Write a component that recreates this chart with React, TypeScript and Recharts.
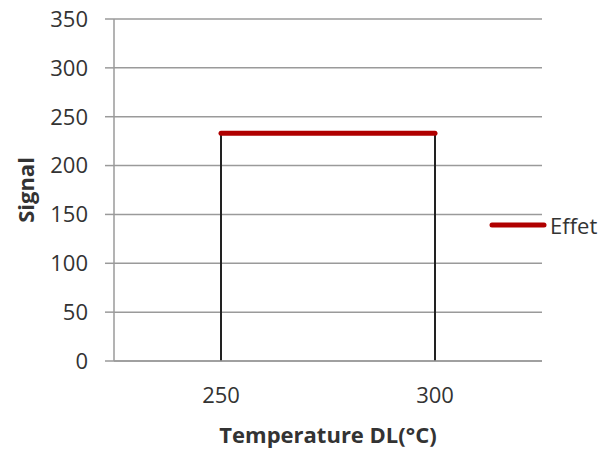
import React from 'react'
import { ComposedChart, Line, Bar, XAxis, YAxis, CartesianGrid, Legend } from 'recharts'

const categories = ['250', '300']
const effet = [233, 233]
const yTicks = [0, 50, 100, 150, 200, 250, 300, 350]

const data = categories.map((c, i) => ({ temp: c, effet: effet[i], drop: effet[i] }))

const FONT = '"Open Sans", sans-serif'
const GRID = '#9a9a9a'
const TEXT = '#333333'
const RED = '#b00000'

const renderLegend = (props: any) => {
  const items = (props.payload || []).filter((p: any) => p.type !== 'none')
  return (
    <div style={{ fontFamily: FONT, fontSize: 22, color: TEXT }}>
      {items.map((p: any) => (
        <div key={p.value} style={{ display: 'flex', alignItems: 'center', height: 30 }}>
          <svg width={58} height={10}>
            <line x1={3} y1={5} x2={55} y2={5} stroke={RED} strokeWidth={5} strokeLinecap="round" />
          </svg>
          <span style={{ marginLeft: 3 }}>{p.value}</span>
        </div>
      ))}
    </div>
  )
}

export default function App() {
  return (
    <div style={{ position: 'absolute', left: 0, top: 0, background: '#fff' }}>
      <ComposedChart width={604} height={450} data={data} margin={{ top: 19, right: 62, bottom: 0, left: 0 }}>
        <CartesianGrid vertical={false} stroke={GRID} strokeWidth={1.5} />
        <XAxis
          dataKey="temp"
          height={89}
          axisLine={{ stroke: GRID, strokeWidth: 1.5 }}
          tickLine={false}
          tickSize={0}
          tickMargin={26}
          tick={{ fill: TEXT, fontSize: 22, fontFamily: FONT }}
          label={{
            value: 'Temperature DL(°C)',
            position: 'insideBottom',
            offset: 7,
            style: { fill: TEXT, fontSize: 22, fontWeight: 700, fontFamily: FONT },
          }}
        />
        <YAxis
          width={114}
          domain={[0, 350]}
          ticks={yTicks}
          interval={0}
          axisLine={{ stroke: GRID, strokeWidth: 1.5 }}
          tickLine={{ stroke: GRID, strokeWidth: 1.5 }}
          tickSize={9}
          tickMargin={17}
          tick={{ fill: TEXT, fontSize: 22, fontFamily: FONT }}
          label={{
            value: 'Signal',
            angle: -90,
            position: 'insideLeft',
            offset: 26,
            style: { fill: TEXT, fontSize: 22, fontWeight: 700, fontFamily: FONT, textAnchor: 'middle' },
          }}
        />
        <Legend
          layout="horizontal"
          verticalAlign="middle"
          align="center"
          content={renderLegend}
          wrapperStyle={{ left: 489, top: 210, width: 'auto' }}
        />
        <Bar dataKey="drop" barSize={2} fill="#222222" legendType="none" isAnimationActive={false} />
        <Line
          dataKey="effet"
          name="Effet"
          stroke={RED}
          strokeWidth={5}
          strokeLinecap="round"
          dot={false}
          isAnimationActive={false}
        />
      </ComposedChart>
    </div>
  )
}
